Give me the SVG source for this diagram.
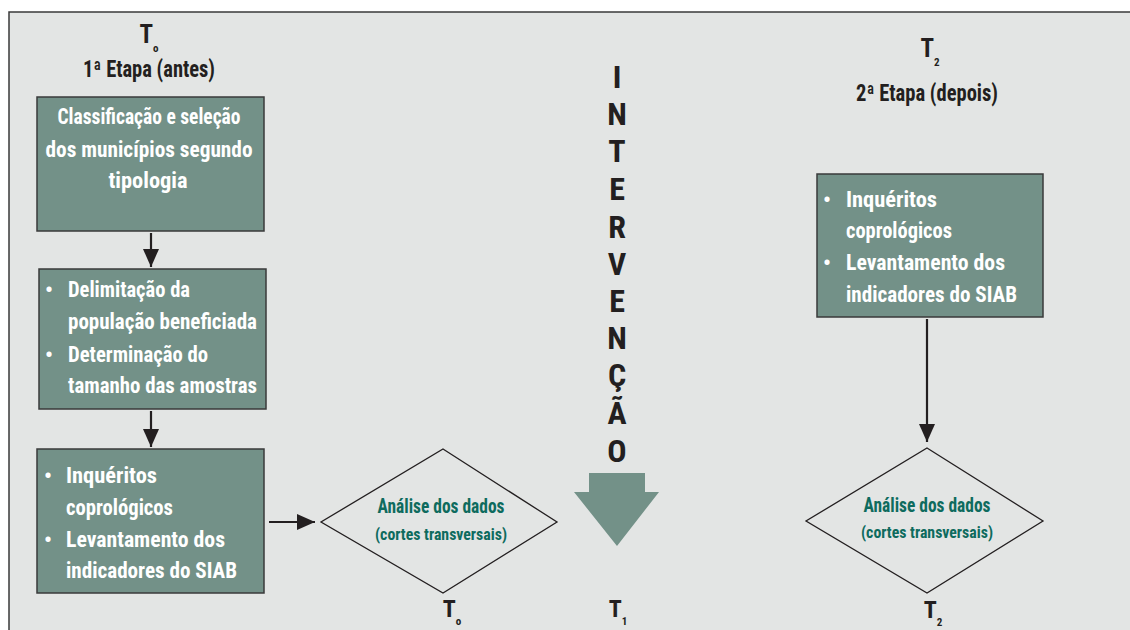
<svg xmlns="http://www.w3.org/2000/svg" width="1130" height="630" viewBox="0 0 1130 630">
  <defs>
    <style>
      .t { font-family: "Liberation Sans Narrow", "Roboto Condensed", "Liberation Sans", sans-serif; font-weight: bold; }
      .dark { fill: #231f20; }
      .wh { fill: #ffffff; font-size: 22px; }
      .teal { fill: #0e6b5e; }
      .box { fill: #739188; stroke: #3a3a3a; stroke-width: 1.5; }
      .dia { fill: none; stroke: #231f20; stroke-width: 1.3; }
      .conn { stroke: #231f20; stroke-width: 2.2; fill: none; marker-end: url(#ah); }
    </style>
    <marker id="ah" viewBox="0 0 18 16" markerWidth="18" markerHeight="16" refX="18" refY="8" orient="auto" markerUnits="userSpaceOnUse">
      <path d="M0,0 L18,8 L0,16 Z" fill="#231f20"/>
    </marker>
  </defs>

  <rect x="0" y="0" width="1130" height="630" fill="#ffffff"/>
  <rect x="9" y="12" width="1125" height="625" fill="#e3e5e4"/>
  <path d="M9,630 L9,12 L1130,12" fill="none" stroke="#3a3a3a" stroke-width="1.5"/>

  <g id="header-left" class="t dark" text-anchor="middle">
    <text x="149" y="43" font-size="25">T<tspan font-size="11" dy="9">o</tspan></text>
    <text x="149" y="77" font-size="23" textLength="132" lengthAdjust="spacingAndGlyphs">1ª Etapa (antes)</text>
  </g>

  <g id="header-right" class="t dark" text-anchor="middle">
    <text x="930" y="57" font-size="25">T<tspan font-size="11" dy="9">2</tspan></text>
    <text x="927" y="101" font-size="23" textLength="142" lengthAdjust="spacingAndGlyphs">2ª Etapa (depois)</text>
  </g>

  <g id="box1">
    <rect class="box" x="37" y="97" width="227" height="134"/>
    <g class="t wh" text-anchor="middle">
      <text x="149" y="124" textLength="183" lengthAdjust="spacingAndGlyphs">Classificação e seleção</text>
      <text x="149" y="157" textLength="207" lengthAdjust="spacingAndGlyphs">dos municípios segundo</text>
      <text x="148" y="188" textLength="79" lengthAdjust="spacingAndGlyphs">tipologia</text>
    </g>
  </g>

  <g id="box2">
    <rect class="box" x="39" y="269" width="227" height="140"/>
    <g class="t wh">
      <text x="45" y="297">•</text>
      <text x="68" y="297" textLength="122" lengthAdjust="spacingAndGlyphs">Delimitação da</text>
      <text x="68" y="329" textLength="189" lengthAdjust="spacingAndGlyphs">população beneficiada</text>
      <text x="45" y="362">•</text>
      <text x="68" y="362" textLength="140" lengthAdjust="spacingAndGlyphs">Determinação do</text>
      <text x="68" y="393" textLength="189" lengthAdjust="spacingAndGlyphs">tamanho das amostras</text>
    </g>
  </g>

  <g id="box3">
    <rect class="box" x="37" y="449" width="227" height="144"/>
    <g class="t wh">
      <text x="44" y="483">•</text>
      <text x="66" y="483" textLength="91" lengthAdjust="spacingAndGlyphs">Inquéritos</text>
      <text x="66" y="515" textLength="107" lengthAdjust="spacingAndGlyphs">coprológicos</text>
      <text x="44" y="547">•</text>
      <text x="66" y="547" textLength="159" lengthAdjust="spacingAndGlyphs">Levantamento dos</text>
      <text x="66" y="578" textLength="171" lengthAdjust="spacingAndGlyphs">indicadores do SIAB</text>
    </g>
  </g>

  <g id="box4">
    <rect class="box" x="817" y="174" width="226" height="143"/>
    <g class="t wh">
      <text x="823" y="207">•</text>
      <text x="846" y="207" textLength="91" lengthAdjust="spacingAndGlyphs">Inquéritos</text>
      <text x="846" y="238" textLength="106" lengthAdjust="spacingAndGlyphs">coprológicos</text>
      <text x="823" y="270">•</text>
      <text x="846" y="270" textLength="159" lengthAdjust="spacingAndGlyphs">Levantamento dos</text>
      <text x="846" y="302" textLength="171" lengthAdjust="spacingAndGlyphs">indicadores do SIAB</text>
    </g>
  </g>

  <g id="diamond1">
    <polygon class="dia" points="443,449 557,522 443,593 321,522"/>
    <g class="t teal" text-anchor="middle">
      <text x="441" y="513" font-size="21" textLength="127" lengthAdjust="spacingAndGlyphs">Análise dos dados</text>
      <text x="441" y="540" font-size="17" textLength="132" lengthAdjust="spacingAndGlyphs">(cortes transversais)</text>
    </g>
  </g>

  <g id="diamond2">
    <polygon class="dia" points="927,448 1043,521 927,593 806,521"/>
    <g class="t teal" text-anchor="middle">
      <text x="927" y="512" font-size="21" textLength="127" lengthAdjust="spacingAndGlyphs">Análise dos dados</text>
      <text x="927" y="538" font-size="17" textLength="132" lengthAdjust="spacingAndGlyphs">(cortes transversais)</text>
    </g>
  </g>

  <g id="intervencao" class="t dark" text-anchor="middle" font-size="32">
    <text x="617" y="88">I</text>
    <text x="617" y="125">N</text>
    <text x="617" y="162">T</text>
    <text x="617" y="200">E</text>
    <text x="617" y="238">R</text>
    <text x="617" y="275">V</text>
    <text x="617" y="312">E</text>
    <text x="617" y="349">N</text>
    <text x="617" y="386">Ç</text>
    <text x="617" y="424">Ã</text>
    <text x="617" y="462">O</text>
  </g>

  <g id="big-arrow">
    <polygon points="589,473 645,473 645,492 659,492 617,546 574,492 589,492" fill="#739188"/>
  </g>

  <g id="time-labels" class="t dark" text-anchor="middle" font-size="24">
    <text x="452" y="617">T<tspan font-size="11" dy="8">o</tspan></text>
    <text x="618" y="617">T<tspan font-size="11" dy="8">1</tspan></text>
    <text x="933" y="618">T<tspan font-size="11" dy="8">2</tspan></text>
  </g>

  <g id="connectors">
    <line class="conn" x1="151" y1="233" x2="151" y2="267"/>
    <line class="conn" x1="151" y1="411" x2="151" y2="447"/>
    <line class="conn" x1="269" y1="522" x2="315" y2="522"/>
    <line class="conn" x1="927" y1="319" x2="927" y2="442"/>
  </g>
</svg>
